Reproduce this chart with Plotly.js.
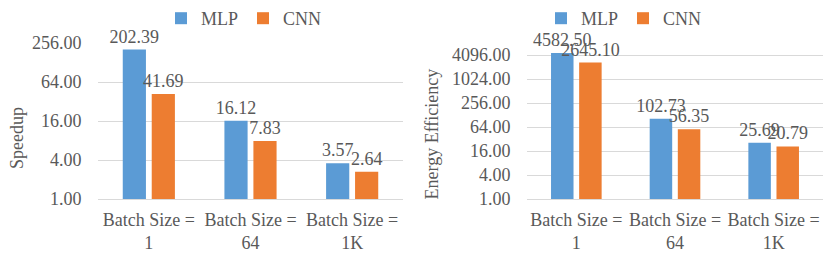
<!DOCTYPE html>
<html>
<head>
<meta charset="utf-8">
<script src="https://cdn.plot.ly/plotly-3.0.1.min.js"></script>
<style>html,body{margin:0;padding:0;background:#fff}#chart{width:830px;height:259px}</style>
</head>
<body>
<div id="chart"></div>
<script>
const categories = ["Batch Size =<br>1", "Batch Size =<br>64", "Batch Size =<br>1K"];
const seriesNames = ["MLP", "CNN"];
const speedupMLP = [202.39, 16.12, 3.57];
const speedupCNN = [41.69, 7.83, 2.64];
const energyMLP = [4582.50, 102.73, 25.69];
const energyCNN = [2645.10, 56.35, 20.79];
const speedupTicks = [1, 4, 16, 64, 256];
const energyTicks = [1, 4, 16, 64, 256, 1024, 4096];

const BLUE = "#5B9BD5", ORANGE = "#ED7D31", TXT = "#595959", GRID = "#D9D9D9";
const FONT = "Liberation Serif";
const FS = 18;

function fnt() { return {family: FONT, size: FS, color: TXT}; }

function barTrace(name, y, color, xa, ya, legend) {
  return {
    type: "bar", name: name, x: categories, y: y, xaxis: xa, yaxis: ya,
    legend: legend, showlegend: true,
    marker: {color: color},
    texttemplate: "%{y:.2f}", textposition: "outside", cliponaxis: false,
    constraintext: "none",
    textfont: fnt(),
    hoverinfo: "skip"
  };
}

const data = [
  barTrace(seriesNames[0], speedupMLP, BLUE, "x", "y", "legend"),
  barTrace(seriesNames[1], speedupCNN, ORANGE, "x", "y", "legend"),
  barTrace(seriesNames[0], energyMLP, BLUE, "x2", "y2", "legend2"),
  barTrace(seriesNames[1], energyCNN, ORANGE, "x2", "y2", "legend2")
];

function yAxis(ticks, top, rangeMax, anchor) {
  return {
    type: "log", range: [0, rangeMax], domain: [1 - 199/259, 1 - top/259], anchor: anchor,
    tickvals: ticks, ticktext: ticks.map(v => v.toFixed(2)),
    showgrid: true, gridcolor: GRID, gridwidth: 1, zeroline: false,
    showline: false, ticks: "outside", ticklen: 12, tickcolor: "rgba(0,0,0,0)",
    tickfont: fnt(), fixedrange: true
  };
}
function xAxis(x0, x1, anchor) {
  return {
    domain: [x0/830, x1/830], anchor: anchor,
    showline: true, linecolor: GRID, linewidth: 1, showgrid: false,
    ticks: "outside", ticklen: 4, tickcolor: "rgba(0,0,0,0)",
    tickfont: fnt(), fixedrange: true
  };
}

const layout = {
  width: 830, height: 259, autosize: false,
  margin: {l: 0, r: 0, t: 0, b: 0},
  paper_bgcolor: "#fff", plot_bgcolor: "#fff",
  font: fnt(),
  barmode: "group", bargap: 0.43, bargroupgap: 0.2,
  xaxis: xAxis(98, 403, "y"),
  yaxis: yAxis(speedupTicks, 43, Math.log10(256), "x"),
  xaxis2: xAxis(527, 823, "y2"),
  yaxis2: yAxis(energyTicks, 52.7, 3.67, "x2"),
  legend: {orientation: "h", x: 244/830, xanchor: "center", y: 1, yanchor: "top",
           font: fnt(), bgcolor: "rgba(0,0,0,0)", tracegroupgap: 0},
  legend2: {orientation: "h", x: 624/830, xanchor: "center", y: 1, yanchor: "top",
           font: fnt(), bgcolor: "rgba(0,0,0,0)", tracegroupgap: 0},
  annotations: [
    {text: "Speedup", xref: "paper", yref: "paper", x: 17/830, y: 1 - 138/259,
     xanchor: "center", yanchor: "middle", textangle: -90, showarrow: false, font: fnt()},
    {text: "Energy Efficiency", xref: "paper", yref: "paper", x: 431/830, y: 1 - 134.5/259,
     xanchor: "center", yanchor: "middle", textangle: -90, showarrow: false, font: fnt()}
  ]
};

Plotly.newPlot("chart", data, layout, {displayModeBar: false});
</script>
</body>
</html>
